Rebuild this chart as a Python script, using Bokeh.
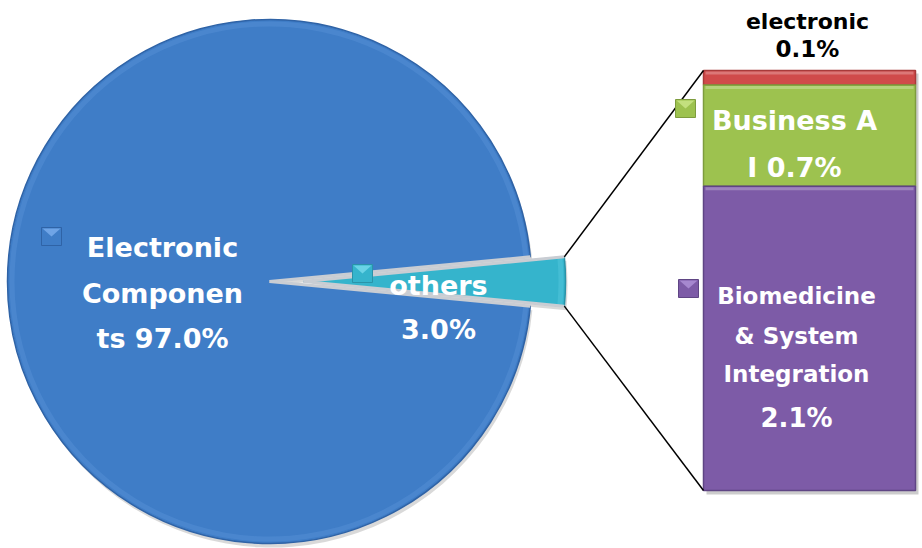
import numpy as np
from bokeh.plotting import figure
from bokeh.models import Range1d
from bokeh.core.properties import value
from bokeh.embed import file_html
from bokeh.resources import INLINE

# ---------------- data ----------------
pie_categories = ["Electronic Components", "others"]
pie_values = [97.0, 3.0]
bar_categories = ["electronic", "Business AI", "Biomedicine & System Integration"]
bar_values = [0.1, 0.7, 2.1]
pie_label_lines = [["Electronic", "Componen", "ts 97.0%"], ["others", "3.0%"]]
bar_label_lines = [["electronic", "0.1%"], ["Business A", "I 0.7%"],
                   ["Biomedicine", "& System", "Integration", "2.1%"]]

# ---------------- layout / style ----------------
W, H = 922, 548
def Y(py):
    return H - py

pie_colors = ["#3F7DC7", "#35B4CC"]
pie_edge = ["#2F63A6", "#2A93A8"]
pie_light = ["#5E98DE", "#62CFE2"]
bar_colors = ["#D04A4A", "#9DC24F", "#7D5BA7"]
bar_edge = ["#A83A3A", "#7E9C3E", "#5F4584"]
FONT = value("DejaVu Sans")

PIE_CX, PIE_CY, R = 269, Y(281), 262
EXPLODE = 34
BAR_L, BAR_R, BAR_TOP, BAR_BOT = 703, 915, Y(70), Y(490)

p = figure(width=W, height=H, output_backend="svg", toolbar_location=None,
           x_range=Range1d(0, W), y_range=Range1d(0, H),
           min_border=0, outline_line_color=None)
p.axis.visible = False
p.grid.visible = False
p.background_fill_color = "white"
p.border_fill_color = "white"

# ---------------- pie ----------------
total = sum(pie_values)
cum = np.concatenate([[0], np.cumsum(pie_values)]) / total * 2 * np.pi
others_span = cum[-1] - cum[-2]
offset = -(cum[-2] + others_span / 2)
starts = cum[:-1] + offset
ends = cum[1:] + offset
mids = (starts + ends) / 2
cx = [PIE_CX + (EXPLODE * np.cos(m) if i == 1 else 0) for i, m in enumerate(mids)]
cy = [PIE_CY + (EXPLODE * np.sin(m) if i == 1 else 0) for i, m in enumerate(mids)]

# shadow
p.wedge(x=[c + 2 for c in cx], y=[c - 4 for c in cy], radius=R,
        start_angle=list(starts), end_angle=list(ends),
        fill_color="#000000", fill_alpha=0.15, line_color=None)
p.wedge(x=cx, y=cy, radius=R, start_angle=list(starts), end_angle=list(ends),
        fill_color=pie_colors, line_color=pie_edge, line_width=1.5)
# upper light rim / lower dark rim (bevel look)
p.annular_wedge(x=cx, y=cy, inner_radius=R - 7, outer_radius=R - 2,
                start_angle=list(starts), end_angle=list(ends),
                fill_color=pie_light, fill_alpha=0.35, line_color=None)
# light separators along the radial edges of each slice
for i in range(len(pie_values)):
    for a in (starts[i], ends[i]):
        p.line(x=[cx[i], cx[i] + R * np.cos(a)], y=[cy[i], cy[i] + R * np.sin(a)],
               line_color="#C9CDD3", line_width=3)

# ---------------- bar ----------------
scale = (BAR_TOP - BAR_BOT) / sum(bar_values)
bcum = np.concatenate([[0], np.cumsum(bar_values)])
tops = [BAR_TOP - scale * c for c in bcum[:-1]]
bots = [BAR_TOP - scale * c for c in bcum[1:]]
p.quad(left=BAR_L + 3, right=BAR_R + 3, top=BAR_TOP - 3, bottom=BAR_BOT - 4,
       fill_color="#000000", fill_alpha=0.2, line_color=None)
p.quad(left=[BAR_L] * 3, right=[BAR_R] * 3, top=tops, bottom=bots,
       fill_color=bar_colors, line_color=bar_edge, line_width=1.5)
p.quad(left=[BAR_L + 2] * 3, right=[BAR_R - 2] * 3, top=[t - 1 for t in tops],
       bottom=[t - 4 for t in tops], fill_color="#FFFFFF", fill_alpha=0.25, line_color=None)

# ---------------- connector lines ----------------
half = others_span / 2
oc = (cx[1], cy[1])
top_corner = (oc[0] + R * np.cos(half), oc[1] + R * np.sin(half))
bot_corner = (oc[0] + R * np.cos(-half), oc[1] + R * np.sin(-half))
p.line(x=[top_corner[0], BAR_L], y=[top_corner[1], BAR_TOP], line_color="black", line_width=1.5)
p.line(x=[bot_corner[0], BAR_L], y=[bot_corner[1], BAR_BOT], line_color="black", line_width=1.5)

# ---------------- legend keys ----------------
key_pos = [(51, Y(236)), (362, Y(273)), (685, Y(108)), (688, Y(288))]
key_colors = [pie_colors[0], pie_colors[1], bar_colors[1], bar_colors[2]]
key_dark = [pie_edge[0], pie_edge[1], bar_edge[1], bar_edge[2]]
key_light = ["#6FA4E6", "#6AD3E6", "#C3E07E", "#A688CF"]
ks = 10
p.quad(left=[k[0] - ks for k in key_pos], right=[k[0] + ks for k in key_pos],
       top=[k[1] + ks - 1 for k in key_pos], bottom=[k[1] - ks + 1 for k in key_pos],
       fill_color=key_colors, line_color=key_dark, line_width=1)
p.patches(xs=[[k[0] - ks + 1, k[0] + ks - 1, k[0]] for k in key_pos],
          ys=[[k[1] + ks - 2, k[1] + ks - 2, k[1]] for k in key_pos],
          fill_color=key_light, line_color=None)

# ---------------- labels (baselines in picture pixels) ----------------
def lines(x, pys, texts, size, color):
    p.text(x=[x] * len(texts), y=[Y(v) for v in pys], text=texts,
           text_font=FONT, text_font_style="bold", text_font_size=size,
           text_color=color, text_align="center", text_baseline="alphabetic")

lines(162, [247, 293, 338], pie_label_lines[0], "27px", "white")
lines(438, [285, 329], pie_label_lines[1], "27px", "white")
lines(807, [21], bar_label_lines[0][:1], "22px", "black")
lines(807, [48], bar_label_lines[0][1:], "23px", "black")
lines(794, [120, 167], bar_label_lines[1], "27px", "white")
lines(796, [295, 335, 373], bar_label_lines[2][:3], "23px", "white")
lines(796, [417], bar_label_lines[2][3:], "26px", "white")

open("out.html", "w").write(file_html(p, INLINE))
